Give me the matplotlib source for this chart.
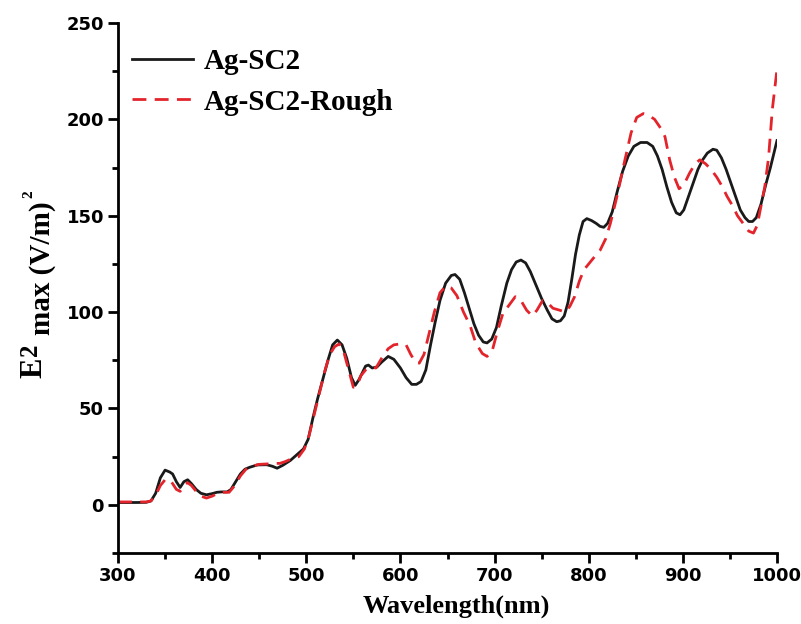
import matplotlib.pyplot as plt
from matplotlib.ticker import MultipleLocator

# wavelength (nm) and E^2max values
wl_smooth = [300, 310, 320, 330, 335, 340, 345, 350, 355, 358, 362, 366, 370, 374, 378,
             383, 388, 394, 400, 405, 410, 416, 420, 425, 430, 435, 440, 448, 458, 464,
             469, 475, 483, 490, 497, 502, 507, 512, 518, 523, 528, 533, 538, 543, 548,
             552, 556, 560, 563, 566, 570, 575, 580, 587, 593, 600, 606, 612, 617, 622,
             627, 632, 637, 642, 648, 654, 658, 663, 668, 673, 678, 683, 688, 692, 697,
             702, 707, 713, 718, 723, 728, 733, 738, 744, 750, 756, 761, 766, 770, 774,
             778, 782, 786, 790, 794, 798, 803, 808, 812, 816, 820, 825, 830, 836, 842,
             848, 855, 862, 868, 873, 878, 883, 888, 893, 897, 901, 906, 911, 916, 921,
             926, 932, 936, 941, 946, 951, 956, 961, 966, 970, 974, 978, 983, 988, 993,
             1000]
e2_smooth = [1.2, 1.2, 1.2, 1.3, 2, 6, 14, 18, 17, 16, 12, 9, 12, 13, 11,
             8, 6, 5.2, 5.8, 6.5, 6.7, 6.7, 8, 12, 16, 18.5, 19.5, 20.7, 20.8, 20,
             19, 20.5, 23, 26, 29, 34, 45, 55, 66, 75, 83, 85.5, 83, 76, 66,
             62, 65, 69, 72, 72.5, 71, 71.5, 74, 77, 75.5, 71, 66, 62.5, 62.5, 64,
             70, 83, 95, 106, 115, 119, 119.5, 117, 110, 102, 94, 88, 84.5, 84, 86,
             92, 103, 115, 122, 126, 127, 125.5, 121, 114, 107, 101, 96.5, 95, 95.5, 98,
             105, 117, 130, 140, 147, 148.5, 147.5, 146, 144.5, 144, 146, 152, 162, 173, 181,
             186, 188, 188, 186, 181, 174, 165, 157, 151.5, 150.5, 153, 160, 167, 174, 179,
             182.5, 184.5, 184, 180, 174, 167, 160, 153, 149, 147, 147, 149, 156, 166, 175,
             189]

wl_rough = [300, 320, 330, 335, 340, 345, 350, 355, 358, 362, 366, 370, 374, 378, 383,
            388, 394, 400, 406, 412, 418, 424, 430, 436, 442, 450, 458, 465, 472, 478,
            485, 492, 498, 503, 508, 514, 520, 525, 530, 535, 540, 545, 550, 554, 558,
            563, 568, 574, 580, 587, 593, 600, 606, 611, 616, 620, 625, 630, 636, 642,
            648, 654, 660, 667, 674, 680, 687, 692, 697, 703, 709, 716, 722, 728, 734,
            740, 745, 751, 756, 762, 769, 775, 780, 785, 790, 795, 800, 805, 812, 818,
            823, 830, 838, 845, 851, 858, 864, 870, 877, 881, 886, 891, 896, 901, 907,
            913, 918, 924, 930, 936, 942, 947, 953, 958, 964, 970, 975, 979, 983, 987,
            991, 995, 1000]
e2_rough = [1.5, 1.5, 1.5, 2, 5, 10, 13, 13, 11, 8, 7, 10, 11.5, 10, 7,
            4.5, 3.5, 4.5, 6, 6.5, 6.5, 10, 15, 18.5, 20, 21, 21.2, 21.5, 21.5, 22.5,
            24, 25, 29, 36, 46, 58, 70, 78, 82, 83.5, 79, 70, 61, 62, 67,
            70, 71.5, 71, 76, 81, 83, 83.5, 83, 78, 74, 73.5, 78, 88, 100, 110,
            113.5, 112.5, 108.5, 100, 93, 84, 78.5, 77, 79, 90, 99.5, 104, 108, 106, 101,
            98, 101, 106, 105, 102, 101, 100, 103, 108, 116, 122, 125, 128, 132, 138,
            146, 160, 178, 193, 201, 203, 202, 200, 195, 191, 179, 170, 164, 166, 172,
            177, 179, 177, 174, 170, 165, 160, 155, 150, 146, 142, 141, 145, 155, 165,
            180, 205, 226]

SERIF = ["Liberation Serif", "DejaVu Serif"]
SANS = ["DejaVu Sans"]
W, H = 801, 624

fig = plt.figure(figsize=(W / 100, H / 100), dpi=100)
ax = fig.add_axes([118 / W, 1 - 553 / H, 659 / W, 530 / H])

ax.plot(wl_smooth, e2_smooth, color="#1a1a1a", lw=2.0, label="Ag-SC2")
ax.plot(wl_rough, e2_rough, color="#e3242b", lw=2.0, ls=(0, (5, 3)),
        label="Ag-SC2-Rough")

ax.set_xlim(300, 1000)
ax.set_ylim(-25, 250)
ax.xaxis.set_major_locator(MultipleLocator(100))
ax.xaxis.set_minor_locator(MultipleLocator(50))
ax.yaxis.set_major_locator(MultipleLocator(50))
ax.yaxis.set_minor_locator(MultipleLocator(25))

for side in ["top", "right"]:
    ax.spines[side].set_visible(False)
for side in ["left", "bottom"]:
    ax.spines[side].set_linewidth(2)

ax.tick_params(which="major", direction="out", length=7, width=2, pad=3)
ax.tick_params(which="minor", direction="out", length=4, width=2)
for lab in ax.get_xticklabels() + ax.get_yticklabels():
    lab.set_family(SANS)
    lab.set_fontweight("bold")
    lab.set_fontsize(13)

ax.set_xlabel("Wavelength(nm)", family=SERIF, fontweight="bold", fontsize=19)
ax.xaxis.set_label_coords(0.514, -0.079)


# y label built from pieces: E, raised 2, "max (V/m)", small 2
# base_x = glyph baseline (pixels), y = start of the text along the axis (pixels)
def ylab(txt, base_x, y, size):
    right = base_x + 0.216 * size * 1.389
    fig.text(right / W, 1 - y / H, txt, rotation=90, ha="right", va="bottom",
             family=SERIF, fontweight="bold", fontsize=size)


ylab("E", 42, 378, 22)
ylab("2", 37, 356, 18)
ylab("max (V/m)", 50, 335, 21)
ylab("2", 32, 198, 11)

ax.legend(loc="upper left", bbox_to_anchor=(0.021, 0.952), frameon=False,
          borderpad=0, borderaxespad=0, handlelength=2.1, handletextpad=0.35,
          labelspacing=0.45, prop={"family": SERIF, "weight": "bold", "size": 21})

fig.savefig("out.png", dpi=100)
